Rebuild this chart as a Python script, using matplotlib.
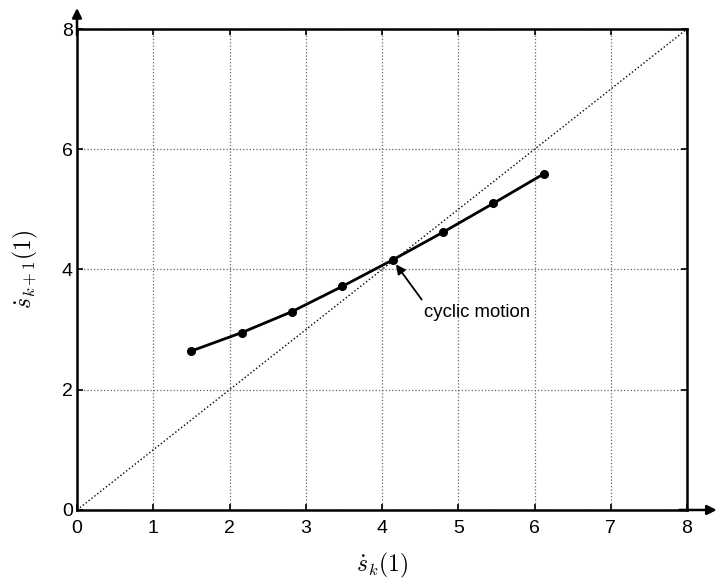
import matplotlib
matplotlib.use("Agg")
import matplotlib.pyplot as plt

plt.rcParams['font.family'] = ['Liberation Sans', 'DejaVu Sans']
plt.rcParams['mathtext.fontset'] = 'cm'

x_vals = [1.49, 2.16, 2.82, 3.48, 4.14, 4.80, 5.46, 6.12]
y_vals = [2.64, 2.95, 3.30, 3.72, 4.16, 4.62, 5.10, 5.59]
diag = [0, 8]
ticks_x = [0, 1, 2, 3, 4, 5, 6, 7, 8]
ticks_y = [0, 2, 4, 6, 8]
fixed_point = (4.14, 4.16)
arrow_tail = (4.52, 3.50)
text_pos = (5.25, 3.29)
annot_text = "cyclic motion"

fig = plt.figure(figsize=(7.17, 5.79), dpi=100)
ax = fig.add_axes([0.1074, 0.1192, 0.9582 - 0.1074, 0.9499 - 0.1192])

ax.plot(diag, diag, linestyle=':', color='black', linewidth=1.0)
ax.plot(x_vals, y_vals, '-', color='black', linewidth=2.0,
        marker='o', markersize=5.5)

ax.set_xlim(0, 8)
ax.set_ylim(0, 8)
ax.set_xticks(ticks_x)
ax.set_yticks(ticks_y)
ax.grid(True, linestyle=':', color='#666666', linewidth=0.9)
ax.tick_params(direction='in', length=4, width=1.2, labelsize=14,
               top=True, right=True, pad=3)
ax.tick_params(axis='x', pad=7)
for s in ax.spines.values():
    s.set_linewidth(1.8)

# axis arrows
ax.annotate('', xy=(8.39, 0), xytext=(7.9, 0), xycoords='data',
            arrowprops=dict(arrowstyle='-|>', color='black', lw=1.8,
                            mutation_scale=14, shrinkA=0, shrinkB=0),
            annotation_clip=False)
ax.annotate('', xy=(0, 8.35), xytext=(0, 7.9), xycoords='data',
            arrowprops=dict(arrowstyle='-|>', color='black', lw=1.8,
                            mutation_scale=14, shrinkA=0, shrinkB=0),
            annotation_clip=False)

ax.annotate('', xy=fixed_point, xytext=arrow_tail,
            arrowprops=dict(arrowstyle='-|>', color='black', lw=1.3,
                            mutation_scale=14, shrinkA=0, shrinkB=4))
ax.text(text_pos[0], text_pos[1], annot_text, fontsize=13.4,
        ha='center', va='center')

ax.set_xlabel(r'$\dot{s}_k(1)$', fontsize=17, labelpad=10)
ax.set_ylabel(r'$\dot{s}_{k+1}(1)$', fontsize=17, labelpad=16)

fig.savefig('out.png', dpi=100)
